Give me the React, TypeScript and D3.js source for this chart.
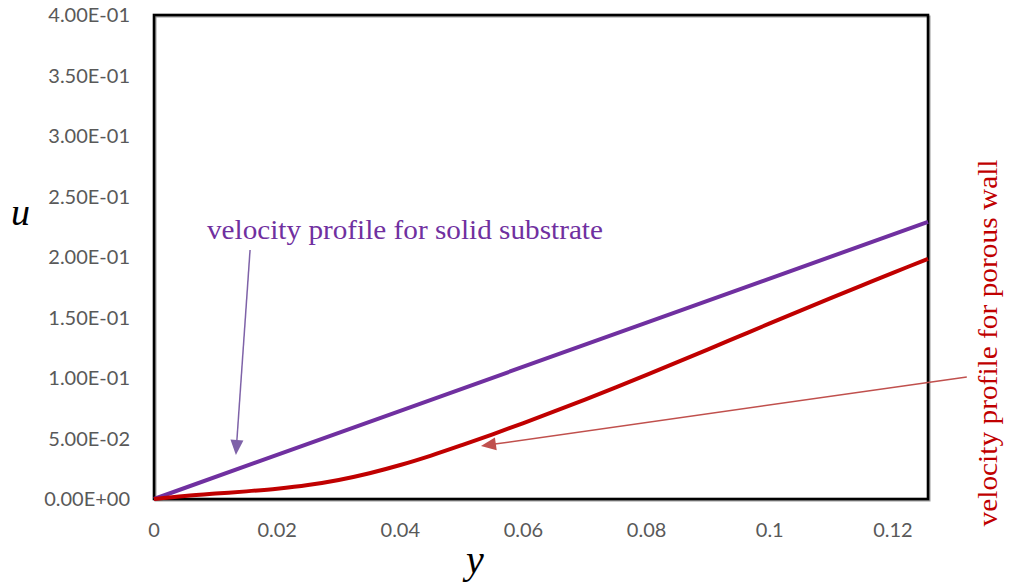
import React from "react";
import * as d3 from "d3";

// Wall-normal distance y and streamwise velocity u
const yValues = [0, 0.005, 0.01, 0.015, 0.02, 0.025, 0.03, 0.035, 0.04, 0.045, 0.05, 0.055, 0.06, 0.065, 0.07, 0.075, 0.08, 0.085, 0.09, 0.095, 0.1, 0.105, 0.11, 0.115, 0.12, 0.1257];
const uPorous = [0, 0.0025, 0.0045, 0.0063, 0.0085, 0.0115, 0.0157, 0.0213, 0.0281, 0.0359, 0.0445, 0.0535, 0.0628, 0.0724, 0.0822, 0.0923, 0.1026, 0.1131, 0.1237, 0.1344, 0.1451, 0.1557, 0.1662, 0.1766, 0.1869, 0.1985];
const ySolid = [0, 0.04, 0.08, 0.1257];
const uSolid = [0, 0.0729, 0.1458, 0.229];

const xTicks = [0, 0.02, 0.04, 0.06, 0.08, 0.1, 0.12];
const xTickLabels = ["0", "0.02", "0.04", "0.06", "0.08", "0.1", "0.12"];
const uTicks = [0, 0.05, 0.1, 0.15, 0.2, 0.25, 0.3, 0.35, 0.4];
const uTickLabels = ["0.00E+00", "5.00E-02", "1.00E-01", "1.50E-01", "2.00E-01", "2.50E-01", "3.00E-01", "3.50E-01", "4.00E-01"];

const W = 1011;
const H = 584;
const plot = { left: 154, right: 928, top: 15, bottom: 499 };

const serif = "'Liberation Serif', 'Times New Roman', serif";
const sans = "Lato, Carlito, Calibri, 'Open Sans', sans-serif";

function arrowHead(x1: number, y1: number, x2: number, y2: number, len: number, half: number) {
  const a = Math.atan2(y2 - y1, x2 - x1);
  const bx = x2 - len * Math.cos(a);
  const by = y2 - len * Math.sin(a);
  const px = -Math.sin(a) * half;
  const py = Math.cos(a) * half;
  return `M${x2},${y2}L${bx + px},${by + py}L${bx - px},${by - py}Z`;
}

export default function App() {
  const x = d3.scaleLinear().domain([0, 0.1257]).range([plot.left, plot.right]);
  const yS = d3.scaleLinear().domain([0, 0.4]).range([plot.bottom, plot.top]);

  const porous = d3
    .line<number>()
    .x((_, i) => x(yValues[i]))
    .y((d) => yS(d))
    .curve(d3.curveCatmullRom)(uPorous) as string;
  const solid = d3
    .line<number>()
    .x((_, i) => x(ySolid[i]))
    .y((d) => yS(d))(uSolid) as string;

  // annotation arrows (data coordinates)
  const pA = { x1: x(0.0156), y1: yS(0.2058), x2: x(0.0133), y2: yS(0.0364) };
  const rA = { x1: x(0.132), y1: yS(0.1008), x2: x(0.0531), y2: yS(0.0438) };

  return (
    <svg width={W} height={H} style={{ position: "absolute", left: 0, top: 0, background: "#fff" }}>
      {/* y tick labels */}
      {uTicks.map((t, i) => (
        <text key={"u" + i} x={130} y={yS(t)} dy="0.35em" textAnchor="end" fontFamily={sans} fontSize={20} fill="#595959">
          {uTickLabels[i]}
        </text>
      ))}
      {/* x tick labels */}
      {xTicks.map((t, i) => (
        <text key={"x" + i} x={x(t)} y={537} textAnchor="middle" fontFamily={sans} fontSize={20} fill="#595959">
          {xTickLabels[i]}
        </text>
      ))}
      {/* plot frame with shadow */}
      <rect x={plot.left + 1.5} y={plot.top + 1.5} width={plot.right - plot.left} height={plot.bottom - plot.top} fill="none" stroke="#9a9a9a" strokeWidth={2} />
      <rect x={plot.left} y={plot.top} width={plot.right - plot.left} height={plot.bottom - plot.top} fill="none" stroke="#000" strokeWidth={2.6} />

      {/* profiles */}
      <path d={solid} fill="none" stroke="#7030a0" strokeWidth={4} />
      <path d={porous} fill="none" stroke="#c00000" strokeWidth={4} strokeLinejoin="round" />

      {/* solid substrate annotation */}
      <text x={x(0.0086)} y={yS(0.2149)} fontFamily={serif} fontSize={27} fill="#7030a0" textLength={396} lengthAdjust="spacingAndGlyphs">
        velocity profile for solid substrate
      </text>
      <line x1={pA.x1} y1={pA.y1} x2={pA.x2 + 0.8} y2={pA.y2 - 12} stroke="#7e62a8" strokeWidth={1.5} />
      <path d={arrowHead(pA.x1, pA.y1, pA.x2, pA.y2, 15, 6.5)} fill="#7e62a8" />

      {/* porous wall annotation */}
      <line x1={rA.x1} y1={rA.y1} x2={rA.x2 + 12} y2={rA.y2 - 1.7} stroke="#c0504d" strokeWidth={1.5} />
      <path d={arrowHead(rA.x1, rA.y1, rA.x2, rA.y2, 15, 6.5)} fill="#c0504d" />
      <text transform="translate(997,343) rotate(-90)" textAnchor="middle" fontFamily={serif} fontSize={28} fill="#c00000" textLength={367} lengthAdjust="spacingAndGlyphs">
        velocity profile for porous wall
      </text>

      {/* axis titles */}
      <text x={11} y={225} fontFamily={serif} fontStyle="italic" fontSize={38} fill="#000">
        u
      </text>
      <text x={466} y={573} fontFamily={serif} fontStyle="italic" fontSize={40} fill="#000">
        y
      </text>
    </svg>
  );
}
